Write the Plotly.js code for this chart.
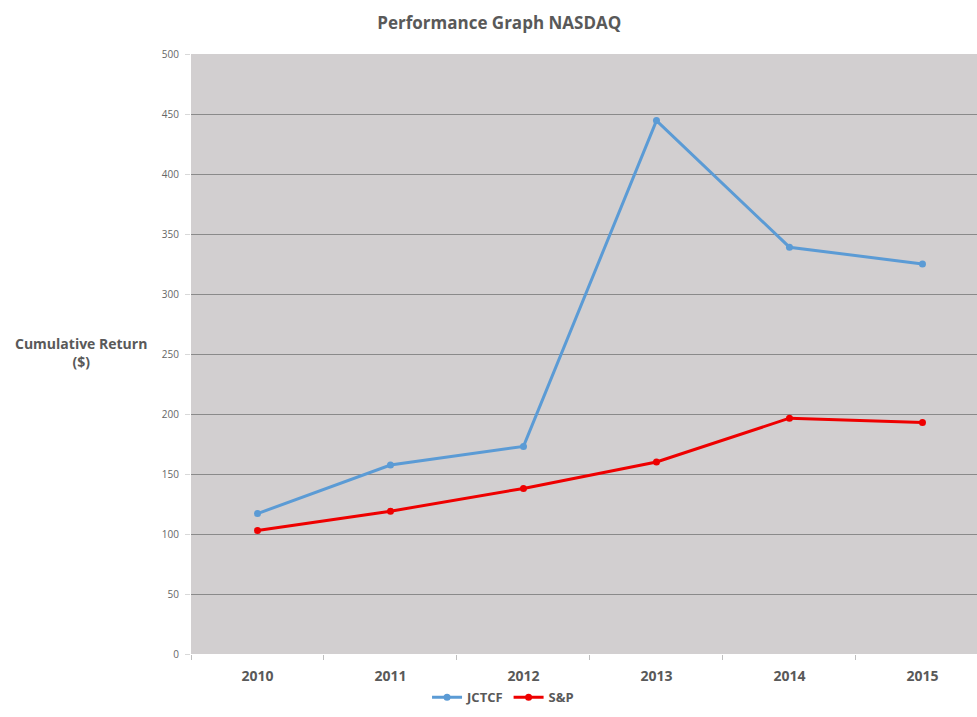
<!DOCTYPE html>
<html>
<head>
<meta charset="utf-8">
<script src="https://cdn.plot.ly/plotly-3.0.1.min.js"></script>
<style>html,body{margin:0;padding:0;background:#fff;}#chart{width:977px;height:717px;}</style>
</head>
<body>
<div id="chart"></div>
<script>
const years = ["2010", "2011", "2012", "2013", "2014", "2015"];
const jctcf = [117, 157.5, 173, 444.5, 339, 325];
const sp = [103, 119, 138, 160, 196.5, 193];
const yTicks = [0, 50, 100, 150, 200, 250, 300, 350, 400, 450, 500];

const traces = [
  {x: years, y: jctcf, name: "JCTCF", type: "scatter", mode: "lines+markers",
   line: {color: "#5b9bd5", width: 3}, marker: {color: "#5b9bd5", size: 7}},
  {x: years, y: sp, name: "S&P", type: "scatter", mode: "lines+markers",
   line: {color: "#ee0000", width: 3}, marker: {color: "#ee0000", size: 7}}
];

const layout = {
  width: 977, height: 717,
  margin: {l: 191, r: 0, t: 54, b: 63},
  paper_bgcolor: "#ffffff",
  plot_bgcolor: "#d2cfd0",
  font: {family: "Open Sans, Liberation Sans, sans-serif", color: "#595959"},
  title: {text: "<b>Performance Graph NASDAQ</b>", font: {size: 17, color: "#595959"},
          x: 0.511, xanchor: "center", y: 0.968, yanchor: "middle"},
  xaxis: {type: "category", range: [-0.5, 5.41], tickson: "boundaries",
          ticks: "outside", ticklen: 5, tickcolor: "#bfbfbf",
          showgrid: false, zeroline: false, showline: false,
          tickfont: {size: 14, color: "#595959", family: "Open Sans, sans-serif", weight: "bold"},
          ticklabelstandoff: 12, fixedrange: true},
  yaxis: {range: [0, 500], tickvals: yTicks, ticks: "outside", ticklen: 5, tickcolor: "#d9d9d9",
          showgrid: true, gridcolor: "#8a8a8a", gridwidth: 1, zeroline: false, showline: false,
          tickfont: {size: 10, color: "#666666"}, ticklabelstandoff: 4},
  showlegend: true,
  legend: {orientation: "h", x: 0.397, xanchor: "center", y: -0.072, yanchor: "middle",
           font: {size: 13, color: "#595959", weight: "bold"}, itemwidth: 30, tracegroupgap: 0},
  annotations: [
    {text: "<b>Cumulative Return</b><br><b>($)</b>", xref: "paper", yref: "paper",
     x: -0.14, y: 0.503, xanchor: "center", yanchor: "middle", showarrow: false,
     font: {size: 14, color: "#595959"}, align: "center"}
  ]
};

Plotly.newPlot("chart", traces, layout, {displayModeBar: false, staticPlot: true});
</script>
</body>
</html>
